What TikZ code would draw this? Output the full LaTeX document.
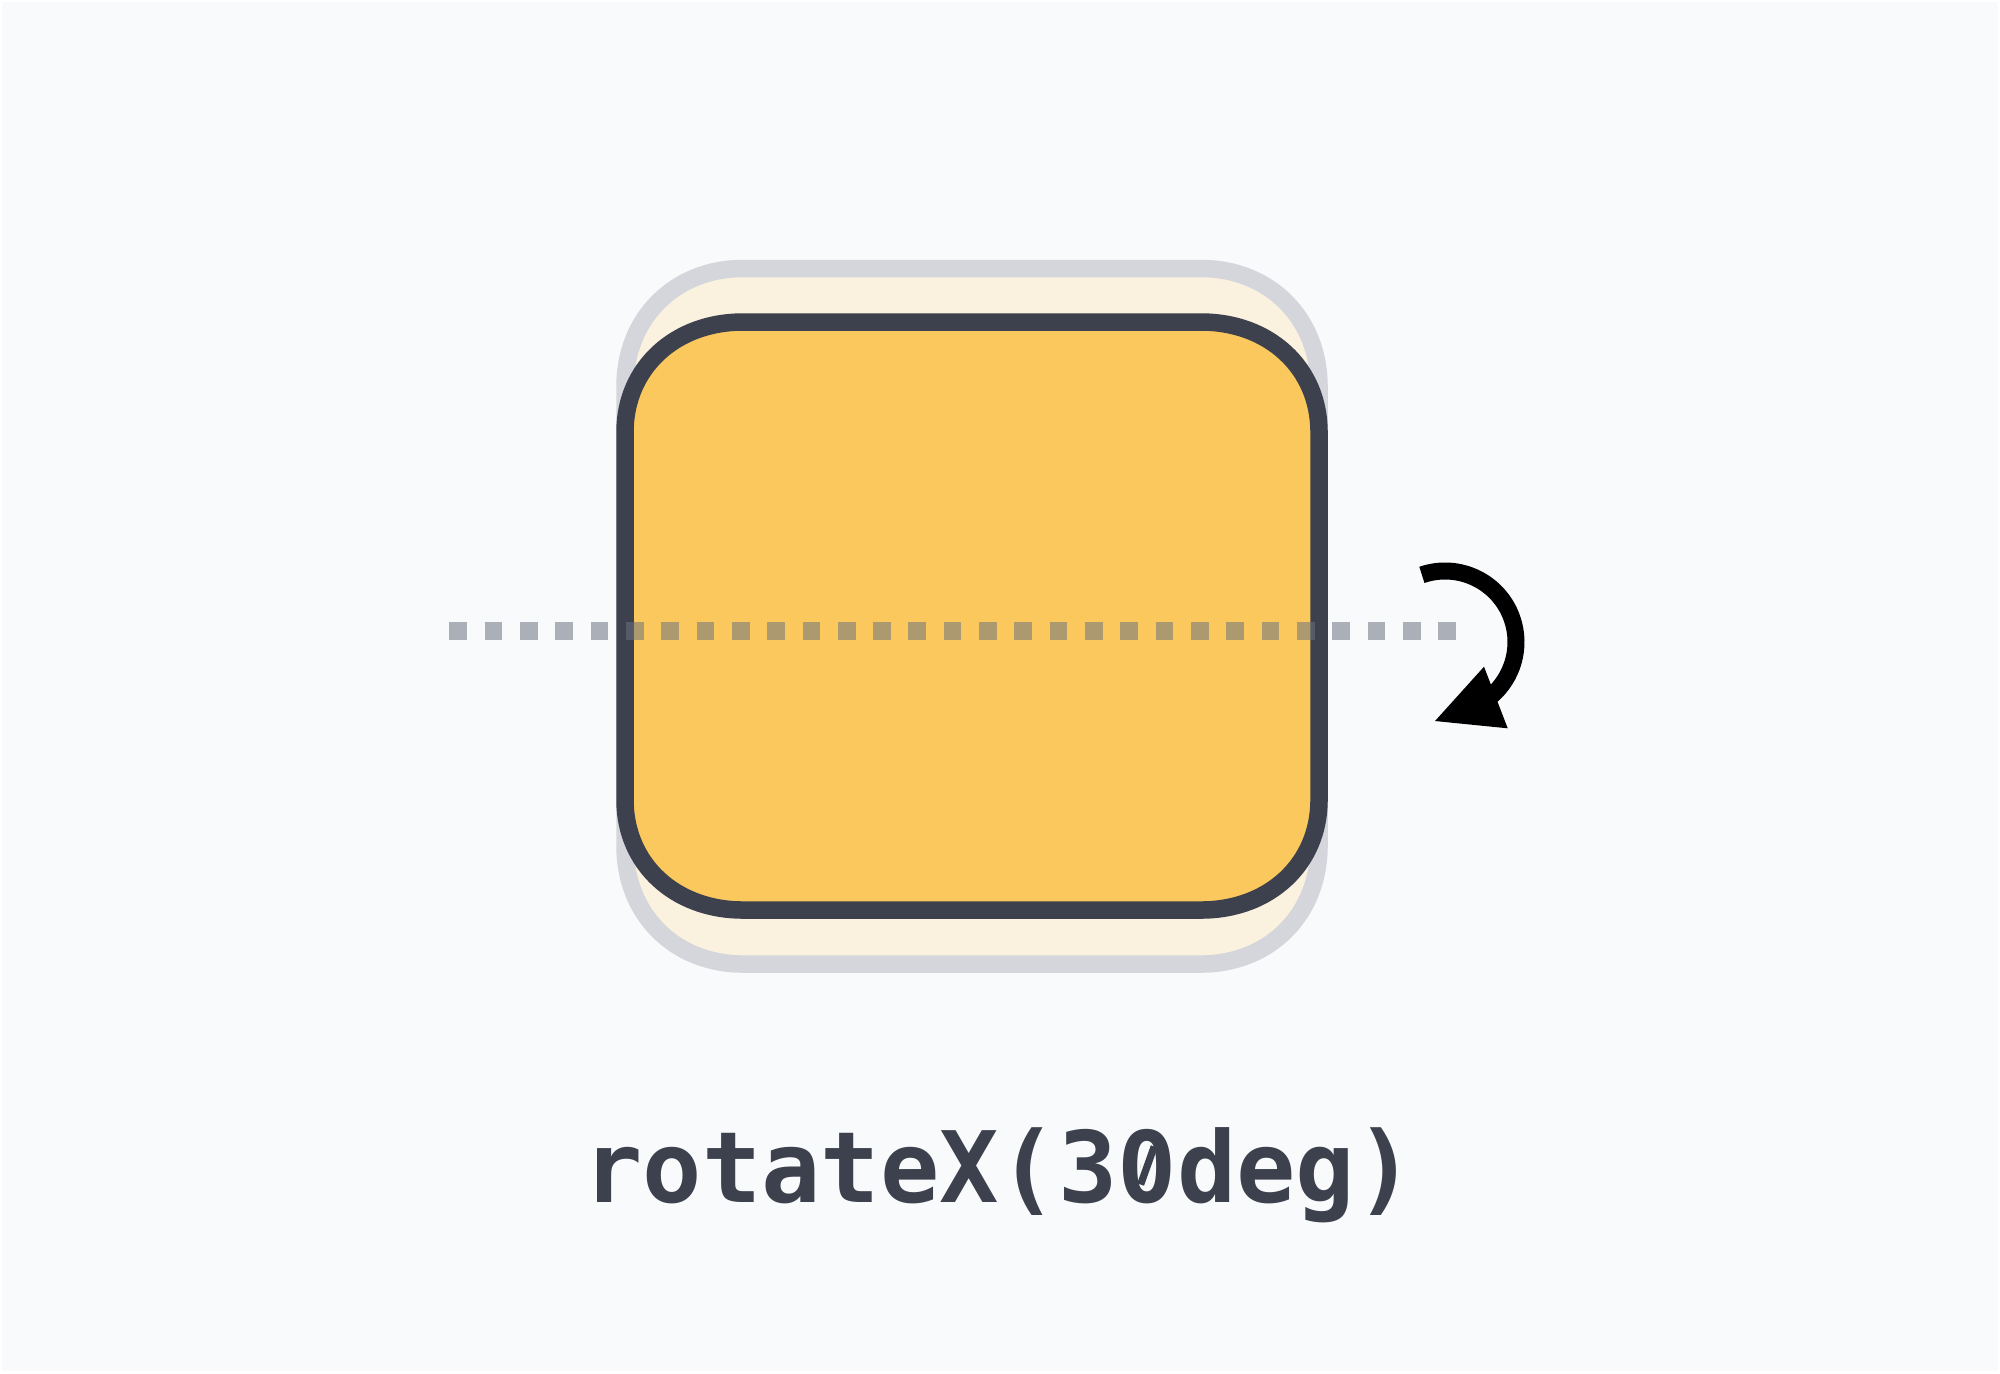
\documentclass[tikz,border=0pt]{standalone}
\usepackage{fontspec}
\newfontfamily\codefont{DejaVu Sans Mono}
\definecolor{bgc}{HTML}{F8FAFC}
\definecolor{ghostline}{HTML}{D4D6DB}
\definecolor{ghostfill}{HTML}{FAF1DF}
\definecolor{cardfill}{HTML}{FBC85D}
\definecolor{inkc}{HTML}{3D414D}
\definecolor{axisc}{HTML}{6B7280}
\tikzset{
  ghost/.style={draw=ghostline, fill=ghostfill, line width=8.75pt, line join=round},
  card/.style={draw=inkc, fill=cardfill, line width=8.75pt, line join=round},
  axisline/.style={draw=axisc, draw opacity=0.54, line width=8.85pt, line cap=butt, dash pattern=on 8.85pt off 8.81pt},
  turnarc/.style={draw=black, line width=8.5pt, line cap=butt},
  turnhead/.style={fill=black},
  caption/.style={text=inkc, font=\codefont\bfseries\fontsize{49.3}{59}\selectfont, inner sep=0pt, anchor=base},
  zeroslash/.style={draw=inkc, line width=3.6pt, line cap=butt}
}
\begin{document}
\begin{tikzpicture}[x=0.5pt, y=-0.5pt]
\useasboundingbox (0,0) rectangle (2000,1373);
\fill[bgc] (0,0) rectangle (2000,1373);
\draw[white, line width=1pt] (1,1) rectangle (1999,1372);
% unrotated ghost
\path[ghost] (743,268.5) -- (1201,268.5) .. controls (1269.4,268.5) and (1319,318.1) .. (1319,386.5)
  -- (1319,846) .. controls (1319,914.4) and (1269.4,964) .. (1201,964)
  -- (743,964) .. controls (674.6,964) and (625,914.4) .. (625,846)
  -- (625,386.5) .. controls (625,318.1) and (674.6,268.5) .. (743,268.5) -- cycle;
% rotated card
\path[card] (743,322) -- (1201,322) .. controls (1269.4,322) and (1319,368.2) .. (1319,432)
  -- (1319,800) .. controls (1319,863.8) and (1269.4,910) .. (1201,910)
  -- (743,910) .. controls (674.6,910) and (625,863.8) .. (625,800)
  -- (625,432) .. controls (625,368.2) and (674.6,322) .. (743,322) -- cycle;
% rotation axis
\coordinate (axisA) at (449.3,631.2);
\coordinate (axisB) at (1456,631.2);
\path[axisline] (axisA) -- (axisB);
% rotation arrow
\coordinate (arcC) at (1445,642);
\path[turnarc] ([shift={(-109:71)}]arcC) arc[start angle=-109, end angle=50, radius=71];
\coordinate (headA) at (1484,666.7);
\coordinate (headB) at (1435,721);
\coordinate (headC) at (1507.7,728.3);
\path[turnhead] (headA) -- (headB) -- (headC) -- cycle;
% caption
\node[caption] (label) at (999,1202) {rotateX(30deg)};
% slashed zero
\coordinate (zc) at ([shift={(148.4,-36.5)}]label.base);
\fill[bgc] (zc) ellipse[x radius=7, y radius=12];
\path[zeroslash] ([shift={(6.8,-19)}]zc) -- ([shift={(-6.8,19)}]zc);
\end{tikzpicture}
\end{document}
